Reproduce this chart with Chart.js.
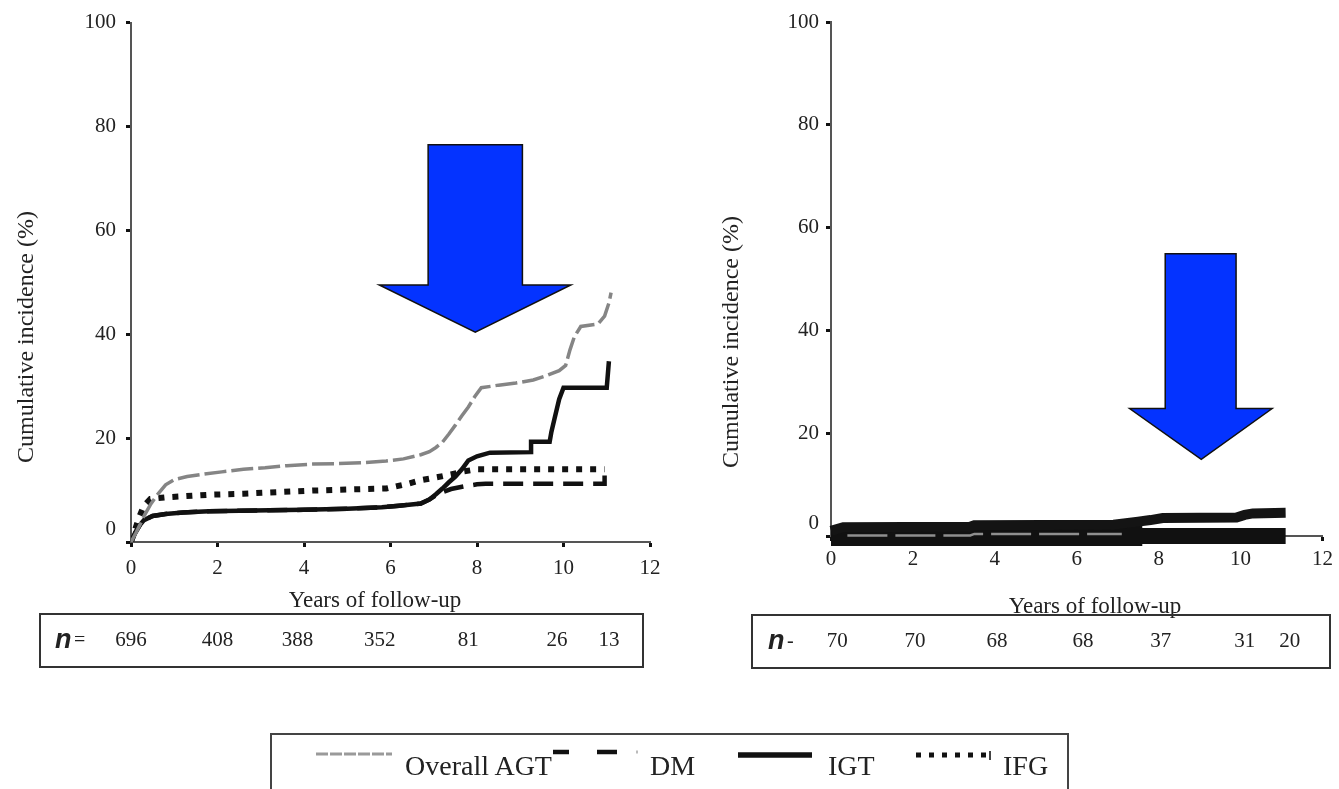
<!DOCTYPE html>
<html>
<head>
<meta charset="utf-8">
<script src="https://cdn.jsdelivr.net/npm/chart.js@4.4.1/dist/chart.umd.min.js"></script>
<style>
  html, body { margin: 0; padding: 0; background: #fff; }
  body { width: 1339px; height: 789px; position: relative; overflow: hidden; font-family: 'Liberation Serif', 'Times New Roman', serif; }
  canvas { position: absolute; top: 0; }
  #cLeft { left: 0; }
  #cRight { left: 680px; }
  #legendBox { position: absolute; left: 270px; top: 733px; width: 795px; height: 80px; border: 2px solid #444; border-bottom: none; }
  .lg { position: absolute; top: 752px; font-size: 28px; line-height: 28px; color: #222; white-space: nowrap; }
  #legendMarks { position: absolute; left: 0; top: 0; }
</style>
</head>
<body>
<canvas id="cLeft" width="680" height="690"></canvas>
<canvas id="cRight" width="659" height="690"></canvas>

<div id="legendBox"></div>
<svg id="legendMarks" width="1339" height="789">
  <line x1="316" y1="754" x2="392" y2="754" stroke="#9a9a9a" stroke-width="3" stroke-dasharray="12 2"/>
  <line x1="553" y1="752" x2="569" y2="752" stroke="#111" stroke-width="4.5"/>
  <line x1="597" y1="752" x2="617" y2="752" stroke="#111" stroke-width="4.5"/>
  <line x1="636" y1="752" x2="638" y2="752" stroke="#bbb" stroke-width="3"/>
  <line x1="738" y1="755" x2="812" y2="755" stroke="#111" stroke-width="5.5"/>
  <line x1="916" y1="755" x2="986" y2="755" stroke="#111" stroke-width="5" stroke-dasharray="5 8"/>
  <line x1="990" y1="751" x2="990" y2="760" stroke="#444" stroke-width="2"/>
</svg>
<span class="lg" style="left:405px">Overall AGT</span>
<span class="lg" style="left:650px">DM</span>
<span class="lg" style="left:828px">IGT</span>
<span class="lg" style="left:1003px">IFG</span>

<script>
// axis ticks
const xTickValues = [0, 2, 4, 6, 8, 10, 12];
const yTickValues = [0, 20, 40, 60, 80, 100];

// left panel: cumulative incidence (%) vs years
const leftAgtYears = [0, 0.1, 0.2, 0.3, 0.45, 0.6, 0.8, 1.0, 1.3, 1.7, 2.1, 2.6, 3.1, 3.6, 4.2, 4.8, 5.4, 5.9, 6.3, 6.7, 6.9, 7.05, 7.2, 7.35, 7.5, 7.65, 7.8, 7.95, 8.1, 8.5, 8.9, 9.3, 9.6, 9.9, 10.05, 10.15, 10.25, 10.4, 10.8, 10.95, 11.05, 11.1];
const leftAgtPct   = [0, 1.5, 3.2, 5, 7.2, 9, 11, 12, 12.6, 13.1, 13.5, 14, 14.3, 14.7, 15, 15.1, 15.3, 15.6, 16, 16.8, 17.4, 18.2, 19.2, 20.8, 22.5, 24.3, 26, 28, 29.7, 30.2, 30.6, 31.2, 32, 33, 34, 37, 39.5, 41.5, 42, 43.5, 46, 48];

const leftIgtYears = [0, 0.1, 0.2, 0.3, 0.5, 0.8, 1.2, 1.8, 2.5, 3.2, 4, 5, 5.8, 6.2, 6.7, 6.9, 7.05, 7.2, 7.35, 7.5, 7.65, 7.8, 8.0, 8.3, 9.25, 9.25, 9.68, 9.72, 9.8, 9.9, 10.0, 11.0, 11.05];
const leftIgtPct   = [0, 1.8, 3.2, 4.2, 5.0, 5.4, 5.7, 5.9, 6.0, 6.1, 6.2, 6.4, 6.7, 7.0, 7.4, 8.2, 9.2, 10.3, 11.5, 12.6, 14, 15.7, 16.5, 17.2, 17.3, 19.3, 19.3, 21.2, 24, 27.5, 29.7, 29.7, 34.8];

const leftDmYears = [0, 0.1, 0.2, 0.3, 0.5, 0.8, 1.2, 1.8, 2.5, 3.2, 4, 5, 5.8, 6.2, 6.7, 6.9, 7.05, 7.2, 7.4, 7.7, 8.0, 8.2, 10.95, 10.95];
const leftDmPct   = [0, 1.8, 3.2, 4.2, 5.0, 5.4, 5.7, 5.9, 6.0, 6.1, 6.2, 6.4, 6.7, 7.0, 7.4, 8.2, 9.0, 9.6, 10.2, 10.7, 11.1, 11.2, 11.2, 12.8];

const leftIfgYears = [0, 0.1, 0.2, 0.3, 0.45, 0.8, 1.2, 1.8, 2.6, 3.4, 4.2, 5.0, 5.9, 6.4, 6.7, 7.1, 7.4, 7.7, 8.0, 10.95];
const leftIfgPct   = [0, 2.5, 5, 7, 8.3, 8.6, 8.8, 9.1, 9.3, 9.6, 9.9, 10.1, 10.3, 11.2, 11.9, 12.5, 13.0, 13.6, 14.0, 14.0];

// right panel: curves stay close to zero
const rightAgtYears = [0, 0.3, 3.4, 3.5, 6.9, 7.2, 7.5, 7.8, 8.1, 9.9, 10.1, 10.3, 11.1];
const rightAgtPct   = [1.0, 1.7, 1.8, 2.1, 2.2, 2.5, 2.8, 3.1, 3.5, 3.6, 4.1, 4.4, 4.5];

const rightIgtYears = [0, 11.1];
const rightIgtPct   = [0, 0];

const rightIfgYears = [0, 7.6];
const rightIfgPct   = [0, 0];

const rightDmYears = [0.4, 3.4, 3.5, 7.1];
const rightDmPct   = [0.1, 0.1, 0.4, 0.4];

// numbers at risk
const leftRiskYears = [0, 2, 3.85, 5.75, 7.8, 9.85, 11.05];
const leftRiskN     = [696, 408, 388, 352, 81, 26, 13];
const rightRiskYears = [0.15, 2.05, 4.05, 6.15, 8.05, 10.1, 11.2];
const rightRiskN     = [70, 70, 68, 68, 37, 31, 20];

// arrows, in data units (years, %)
const leftArrow  = { x0: 6.87, x1: 9.05, top: 76.5, neck: 49.5, wingL: 5.74, wingR: 10.17, tipX: 7.96, tipY: 40.4 };
const rightArrow = { x0: 8.16, x1: 9.89, top: 54.9, neck: 24.8, wingL: 7.29, wingR: 10.77, tipX: 9.04, tipY: 14.9 };

const pts = (xs, ys) => xs.map((x, i) => ({ x, y: ys[i] }));

Chart.defaults.font.family = "'Liberation Serif', 'Times New Roman', serif";
Chart.defaults.color = '#222';

const panelExtras = {
  id: 'panelExtras',
  afterDraw(chart, args, o) {
    const ctx = chart.ctx, xs = chart.scales.x, ys = chart.scales.y;
    ctx.save();
    // arrow
    const a = o.arrow;
    const poly = [[a.x0, a.top], [a.x1, a.top], [a.x1, a.neck], [a.wingR, a.neck], [a.tipX, a.tipY], [a.wingL, a.neck], [a.x0, a.neck]];
    ctx.beginPath();
    poly.forEach(([x, y], i) => {
      const px = xs.getPixelForValue(x), py = ys.getPixelForValue(y);
      if (i) ctx.lineTo(px, py); else ctx.moveTo(px, py);
    });
    ctx.closePath();
    ctx.fillStyle = '#0433ff';
    ctx.fill();
    ctx.lineWidth = 1.5;
    ctx.strokeStyle = '#111';
    ctx.stroke();

    // axis titles
    ctx.fillStyle = '#222';
    ctx.textAlign = 'center';
    ctx.textBaseline = 'middle';
    ctx.font = "23px 'Liberation Serif'";
    ctx.fillText('Years of follow-up', o.xTitle[0], o.xTitle[1]);
    ctx.save();
    ctx.translate(o.yTitle[0], o.yTitle[1]);
    ctx.rotate(-Math.PI / 2);
    ctx.font = "24px 'Liberation Serif'";
    ctx.fillText('Cumulative incidence (%)', 0, 0);
    ctx.restore();

    // numbers-at-risk box
    const [bx0, by0, bx1, by1] = o.box;
    const my = (by0 + by1) / 2;
    ctx.lineWidth = 2;
    ctx.strokeStyle = '#333';
    ctx.strokeRect(bx0, by0, bx1 - bx0, by1 - by0);
    ctx.textAlign = 'left';
    ctx.font = "italic bold 27px 'Liberation Sans'";
    ctx.fillText('n', o.nPos[0], my);
    ctx.font = "20px 'Liberation Serif'";
    ctx.fillText(o.eq, o.nPos[0] + 19, my);
    ctx.font = "21px 'Liberation Serif'";
    ctx.textAlign = 'center';
    o.riskYears.forEach((t, i) => ctx.fillText(String(o.riskN[i]), xs.getPixelForValue(t), my));
    ctx.restore();
  }
};

function makePanel(id, datasets, cfg) {
  return new Chart(document.getElementById(id), {
    type: 'line',
    data: { datasets },
    plugins: [panelExtras],
    options: {
      responsive: false,
      animation: false,
      layout: { padding: { left: 0, top: 22, right: cfg.padRight, bottom: cfg.padBottom } },
      elements: { point: { radius: 0 }, line: { tension: 0, borderCapStyle: 'butt', borderJoinStyle: 'miter' } },
      plugins: {
        legend: { display: false },
        tooltip: { enabled: false },
        panelExtras: cfg.extras
      },
      scales: {
        x: {
          type: 'linear', min: 0, max: 12,
          afterBuildTicks: s => { s.ticks = xTickValues.map(v => ({ value: v })); },
          afterFit: s => { s.height = cfg.xHeight; },
          border: { display: true, color: '#555', width: 2 },
          grid: { drawOnChartArea: false, drawTicks: true, tickLength: 5, tickWidth: 3, tickColor: '#111' },
          ticks: { font: { size: 21 }, padding: cfg.xPad, maxRotation: 0 }
        },
        y: {
          min: 0, max: 100,
          afterBuildTicks: s => { s.ticks = yTickValues.map(v => ({ value: v })); },
          afterFit: s => { s.width = cfg.yWidth; },
          border: { display: true, color: '#555', width: 2 },
          grid: { drawOnChartArea: false, drawTicks: true, tickLength: 5, tickWidth: 3, tickColor: '#111' },
          ticks: { font: { size: 21 }, padding: cfg.yPad, callback: v => (v === 0 ? ['0', ''] : String(v)) }
        }
      }
    }
  });
}

makePanel('cLeft', [
  { label: 'Overall AGT', data: pts(leftAgtYears, leftAgtPct), borderColor: '#858585', borderWidth: 3.5, borderDash: [22, 5], order: 1 },
  { label: 'DM', data: pts(leftDmYears, leftDmPct), borderColor: '#111', borderWidth: 4.5, borderDash: [20, 10], order: 4 },
  { label: 'IGT', data: pts(leftIgtYears, leftIgtPct), borderColor: '#111', borderWidth: 4.5, order: 2 },
  { label: 'IFG', data: pts(leftIfgYears, leftIfgPct), borderColor: '#111', borderWidth: 6, borderDash: [6, 8], order: 3 }
], {
  padRight: 30, padBottom: 98, xHeight: 50, yWidth: 131, xPad: 9, yPad: 10,
  extras: { arrow: leftArrow, xTitle: [375, 601], yTitle: [27, 337], box: [40, 614, 643, 667], nPos: [55, 0], eq: '=', riskYears: leftRiskYears, riskN: leftRiskN }
});

makePanel('cRight', [
  { label: 'Overall AGT', data: pts(rightAgtYears, rightAgtPct), borderColor: '#141414', borderWidth: 10, order: 2, clip: false },
  { label: 'DM', data: pts(rightDmYears, rightDmPct), borderColor: '#8f8f8f', borderWidth: 2.5, borderDash: [40, 8], order: 1, clip: false },
  { label: 'IGT', data: pts(rightIgtYears, rightIgtPct), borderColor: '#111', borderWidth: 16, order: 3, clip: false },
  { label: 'IFG', data: pts(rightIfgYears, rightIfgPct), borderColor: '#111', borderWidth: 20, order: 4, clip: false }
], {
  padRight: 12, padBottom: 104, xHeight: 50, yWidth: 151, xPad: 6, yPad: 7,
  extras: { arrow: rightArrow, xTitle: [415, 607], yTitle: [52, 342], box: [72, 615, 650, 668], nPos: [88, 0], eq: '-', riskYears: rightRiskYears, riskN: rightRiskN }
});
</script>
</body>
</html>
